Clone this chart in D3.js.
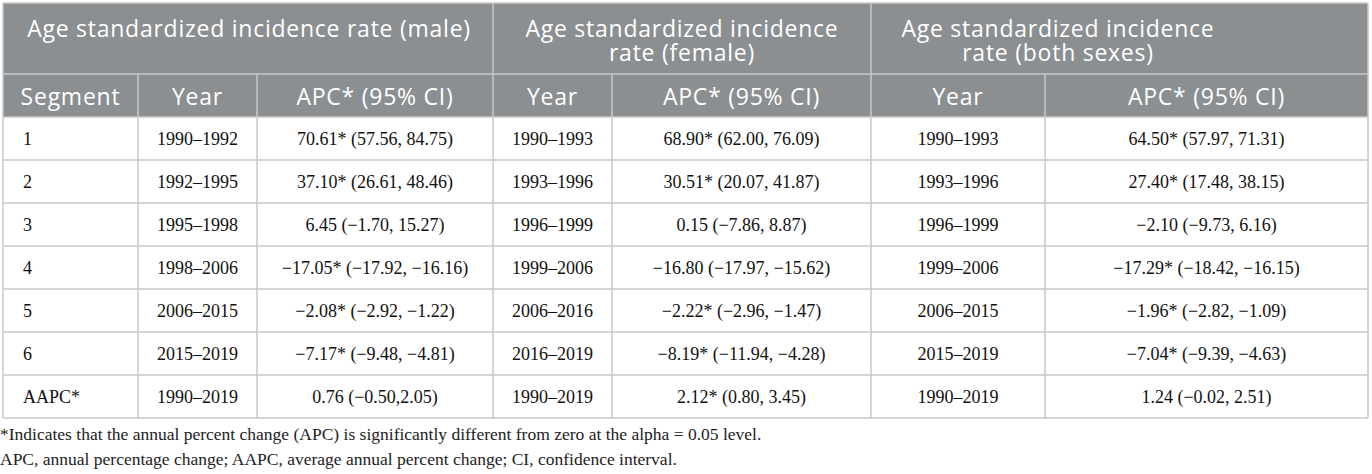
<!DOCTYPE html>
<html>
<head>
<meta charset="utf-8">
<script src="https://cdn.jsdelivr.net/npm/d3@7"></script>
<style>
  body { margin: 0; background: #fff; }
  svg { display: block; }
</style>
</head>
<body>
<div id="table"></div>
<script>
// table content
const groupTitles = [
  ['Age standardized incidence rate (male)'],
  ['Age standardized incidence', 'rate (female)'],
  ['Age standardized incidence', 'rate (both sexes)']
];
const subHeaders = ['Segment', 'Year', 'APC* (95% CI)', 'Year', 'APC* (95% CI)', 'Year', 'APC* (95% CI)'];
const segments = ['1', '2', '3', '4', '5', '6', 'AAPC*'];
const maleYears = ['1990–1992', '1992–1995', '1995–1998', '1998–2006', '2006–2015', '2015–2019', '1990–2019'];
const maleAPC = ['70.61* (57.56, 84.75)', '37.10* (26.61, 48.46)', '6.45 (−1.70, 15.27)', '−17.05* (−17.92, −16.16)',
  '−2.08* (−2.92, −1.22)', '−7.17* (−9.48, −4.81)', '0.76 (−0.50,2.05)'];
const femaleYears = ['1990–1993', '1993–1996', '1996–1999', '1999–2006', '2006–2016', '2016–2019', '1990–2019'];
const femaleAPC = ['68.90* (62.00, 76.09)', '30.51* (20.07, 41.87)', '0.15 (−7.86, 8.87)', '−16.80 (−17.97, −15.62)',
  '−2.22* (−2.96, −1.47)', '−8.19* (−11.94, −4.28)', '2.12* (0.80, 3.45)'];
const bothYears = ['1990–1993', '1993–1996', '1996–1999', '1999–2006', '2006–2015', '2015–2019', '1990–2019'];
const bothAPC = ['64.50* (57.97, 71.31)', '27.40* (17.48, 38.15)', '−2.10 (−9.73, 6.16)', '−17.29* (−18.42, −16.15)',
  '−1.96* (−2.82, −1.09)', '−7.04* (−9.39, −4.63)', '1.24 (−0.02, 2.51)'];
const footnotes = [
  '*Indicates that the annual percent change (APC) is significantly different from zero at the alpha = 0.05 level.',
  'APC, annual percentage change; AAPC, average annual percent change; CI, confidence interval.'
];

const columns = [segments, maleYears, maleAPC, femaleYears, femaleAPC, bothYears, bothAPC];

// layout
const width = 1372, height = 474;
const tLeft = 3, tRight = 1368;
const colWidths = [135, 119, 236, 119, 259, 174, 323];
const colEdges = [tLeft, ...d3.cumsum(colWidths).map(d => tLeft + d)];
const groupStarts = [0, 3, 5];
const tTop = 3, head1 = 71, head2 = 43;
const bodyTop = tTop + head1 + head2;
const rowH = 43;

const headFill = '#8b8f92';
const gridColor = '#c9c9c9';
const sansFont = '"Open Sans", "Noto Sans", sans-serif';
const serifFont = '"Liberation Serif", "Times New Roman", serif';

const svg = d3.select('#table').append('svg')
  .attr('width', width)
  .attr('height', height);

const y = d3.scaleBand()
  .domain(d3.range(segments.length))
  .range([bodyTop, bodyTop + rowH * segments.length]);
const tBottom = y.range()[1];

// header background
svg.append('rect')
  .attr('x', tLeft).attr('y', tTop)
  .attr('width', tRight - tLeft).attr('height', head1 + head2)
  .attr('fill', headFill);

// header group titles (wrapped ones as separate lines)
const groupCenters = [249, 682, 1058];
groupTitles.forEach((lines, i) => {
  svg.append('g')
    .selectAll('text')
    .data(lines)
    .join('text')
    .attr('x', groupCenters[i])
    .attr('y', (d, j) => tTop + 34 + j * 24)
    .attr('font-family', sansFont)
    .attr('font-size', 23)
    .attr('letter-spacing', 0.75)
    .attr('fill', '#fff')
    .attr('text-anchor', 'middle')
    .text(d => d);
});

// sub headers
svg.append('g')
  .selectAll('text')
  .data(subHeaders)
  .join('text')
  .attr('x', (d, i) => (colEdges[i] + colEdges[i + 1]) / 2)
  .attr('y', tTop + head1 + 31)
  .attr('text-anchor', 'middle')
  .attr('font-family', sansFont)
  .attr('font-size', 23)
  .attr('letter-spacing', 0.75)
  .attr('fill', '#fff')
  .text(d => d);

// body cells
columns.forEach((col, c) => {
  svg.append('g')
    .selectAll('text')
    .data(col)
    .join('text')
    .attr('x', c === 0 ? colEdges[0] + 20 : (colEdges[c] + colEdges[c + 1]) / 2)
    .attr('y', (d, i) => y(i) + y.bandwidth() / 2 + 6)
    .attr('text-anchor', c === 0 ? 'start' : 'middle')
    .attr('font-family', serifFont)
    .attr('font-size', 18)
    .attr('fill', '#111')
    .text(d => d);
});

// grid lines
const grid = svg.append('g')
  .attr('stroke', gridColor)
  .attr('stroke-width', 1.5)
  .attr('fill', 'none');

// horizontal lines
grid.selectAll('line.h')
  .data(d3.range(segments.length + 1))
  .join('line')
  .attr('class', 'h')
  .attr('x1', tLeft).attr('x2', tRight)
  .attr('y1', i => i === segments.length ? tBottom : y(i))
  .attr('y2', i => i === segments.length ? tBottom : y(i));

// line between the two header rows
grid.append('line')
  .attr('x1', tLeft).attr('x2', tRight)
  .attr('y1', tTop + head1).attr('y2', tTop + head1);

// top border
grid.append('line')
  .attr('x1', tLeft).attr('x2', tRight)
  .attr('y1', tTop).attr('y2', tTop);

// vertical lines: group boundaries run full height, inner ones start at sub header
grid.selectAll('line.v')
  .data(colEdges)
  .join('line')
  .attr('class', 'v')
  .attr('x1', d => d).attr('x2', d => d)
  .attr('y1', (d, i) => groupStarts.includes(i) || i === colEdges.length - 1 ? tTop : tTop + head1)
  .attr('y2', tBottom);

// footnotes
svg.append('g')
  .selectAll('text')
  .data(footnotes)
  .join('text')
  .attr('x', 0)
  .attr('y', (d, i) => 440 + i * 25)
  .attr('font-family', serifFont)
  .attr('font-size', 17.5)
  .attr('fill', '#222')
  .text(d => d);
</script>
</body>
</html>
